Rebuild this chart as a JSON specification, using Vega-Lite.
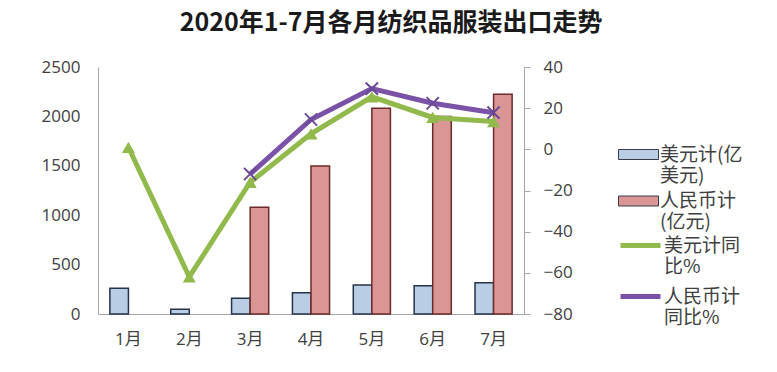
{
  "$schema": "https://vega.github.io/schema/vega-lite/v6.json",
  "width": 426,
  "height": 247,
  "autosize": {"type": "none"},
  "padding": {"left": 98, "top": 67, "right": 253, "bottom": 58},
  "background": "white",
  "title": {
    "text": "2020年1-7月各月纺织品服装出口走势",
    "font": "Noto Sans CJK SC",
    "fontSize": 25,
    "fontWeight": "bold",
    "color": "#1a1a1a",
    "anchor": "middle",
    "dx": 80,
    "offset": 22
  },
  "config": {
    "view": {"stroke": null},
    "axis": {
      "labelFont": "Open Sans, Noto Sans CJK SC",
      "labelFontSize": 17,
      "labelColor": "#404040",
      "domainColor": "#a6a6a6",
      "tickColor": "#a6a6a6",
      "grid": false,
      "title": null
    }
  },
  "datasets": {
    "bars": [
      {"month": "1月", "series": "美元计(亿美元)", "value": 260},
      {"month": "2月", "series": "美元计(亿美元)", "value": 48},
      {"month": "3月", "series": "美元计(亿美元)", "value": 159},
      {"month": "4月", "series": "美元计(亿美元)", "value": 216},
      {"month": "5月", "series": "美元计(亿美元)", "value": 293},
      {"month": "6月", "series": "美元计(亿美元)", "value": 287},
      {"month": "7月", "series": "美元计(亿美元)", "value": 317},
      {"month": "3月", "series": "人民币计(亿元)", "value": 1080},
      {"month": "4月", "series": "人民币计(亿元)", "value": 1498},
      {"month": "5月", "series": "人民币计(亿元)", "value": 2082},
      {"month": "6月", "series": "人民币计(亿元)", "value": 2000},
      {"month": "7月", "series": "人民币计(亿元)", "value": 2224}
    ],
    "lines": [
      {"month": "1月", "series": "美元计同比%", "value": 1},
      {"month": "2月", "series": "美元计同比%", "value": -62},
      {"month": "3月", "series": "美元计同比%", "value": -16},
      {"month": "4月", "series": "美元计同比%", "value": 7.5},
      {"month": "5月", "series": "美元计同比%", "value": 25.5},
      {"month": "6月", "series": "美元计同比%", "value": 15.5},
      {"month": "7月", "series": "美元计同比%", "value": 13.5},
      {"month": "3月", "series": "人民币计同比%", "value": -12},
      {"month": "4月", "series": "人民币计同比%", "value": 14.5},
      {"month": "5月", "series": "人民币计同比%", "value": 29.5},
      {"month": "6月", "series": "人民币计同比%", "value": 22.4},
      {"month": "7月", "series": "人民币计同比%", "value": 17.8}
    ]
  },
  "layer": [
    {
      "data": {"name": "bars"},
      "encoding": {
        "x": {
          "field": "month",
          "type": "ordinal",
          "sort": ["1月", "2月", "3月", "4月", "5月", "6月", "7月"],
          "scale": {"type": "band", "paddingInner": 0.39, "paddingOuter": 0.195},
          "axis": {"labelAngle": 0, "ticks": false, "labelPadding": 17}
        },
        "xOffset": {
          "field": "series",
          "type": "nominal",
          "scale": {"domain": ["美元计(亿美元)", "人民币计(亿元)"]}
        },
        "y": {
          "field": "value",
          "type": "quantitative",
          "scale": {"domain": [0, 2500]},
          "axis": {"values": [0, 500, 1000, 1500, 2000, 2500], "format": "d", "ticks": false, "labelPadding": 18}
        },
        "fill": {
          "field": "series",
          "type": "nominal",
          "scale": {"domain": ["美元计(亿美元)", "人民币计(亿元)"], "range": ["#b9cde5", "#d99694"]},
          "legend": {
            "orient": "none",
            "legendX": 530,
            "legendY": 77,
            "title": null,
            "symbolType": "M-2,-0.5H2V0.5H-2Z",
            "symbolSize": 400,
            "symbolStrokeColor": "#3a3a4a",
            "symbolStrokeWidth": 1,
            "labelFont": "Noto Sans CJK SC",
            "labelFontSize": 19,
            "labelColor": "#404040",
            "labelOffset": 11,
            "labelLimit": 300,
            "rowPadding": 4.5,
            "labelExpr": "datum.label == '美元计(亿美元)' ? ['美元计(亿', '美元)'] : ['人民币计', '(亿元)']"
          }
        }
      },
      "layer": [
        {
          "transform": [{"filter": "datum.series == '美元计(亿美元)'"}],
          "mark": {"type": "bar", "stroke": "#26324a", "strokeWidth": 1.5}
        },
        {
          "transform": [{"filter": "datum.series == '人民币计(亿元)'"}],
          "mark": {"type": "bar", "stroke": "#6b2b2a", "strokeWidth": 1.5}
        }
      ]
    },
    {
      "data": {"name": "lines"},
      "encoding": {
        "x": {
          "field": "month",
          "type": "ordinal",
          "sort": ["1月", "2月", "3月", "4月", "5月", "6月", "7月"]
        },
        "y": {
          "field": "value",
          "type": "quantitative",
          "scale": {"domain": [-80, 40]},
          "axis": {"orient": "right", "values": [-80, -60, -40, -20, 0, 20, 40], "tickSize": 6, "labelPadding": 13}
        }
      },
      "layer": [
        {
          "transform": [{"filter": "datum.series == '美元计同比%'"}],
          "mark": {"type": "line", "strokeWidth": 5},
          "encoding": {
            "stroke": {
              "field": "series",
              "type": "nominal",
              "scale": {"domain": ["美元计同比%", "人民币计同比%"], "range": ["#92b94b", "#7a52a8"]},
              "legend": {
                "orient": "none",
                "legendX": 530,
                "legendY": 166,
                "title": null,
                "symbolType": "M-2,0H2",
                "symbolSize": 400,
                "symbolStrokeWidth": 5,
                "labelFont": "Noto Sans CJK SC",
                "labelFontSize": 19,
                "labelColor": "#404040",
                "labelOffset": 11,
                "labelLimit": 300,
                "rowPadding": 7,
                "labelExpr": "datum.label == '美元计同比%' ? ['美元计同', '比%'] : ['人民币计', '同比%']"
              }
            }
          }
        },
        {
          "transform": [{"filter": "datum.series == '美元计同比%'"}],
          "mark": {"type": "point", "shape": "triangle-up", "filled": true, "size": 170, "color": "#92b94b", "opacity": 1}
        },
        {
          "transform": [{"filter": "datum.series == '人民币计同比%'"}],
          "mark": {"type": "line", "strokeWidth": 5},
          "encoding": {
            "stroke": {
              "field": "series",
              "type": "nominal",
              "scale": {"domain": ["美元计同比%", "人民币计同比%"], "range": ["#92b94b", "#7a52a8"]}
            }
          }
        },
        {
          "transform": [{"filter": "datum.series == '人民币计同比%'"}],
          "mark": {"type": "point", "shape": "M-1,-1L1,1M-1,1L1,-1", "filled": false, "size": 150, "stroke": "#6a4a96", "strokeWidth": 2, "opacity": 1}
        }
      ]
    }
  ],
  "resolve": {"scale": {"y": "independent"}}
}
